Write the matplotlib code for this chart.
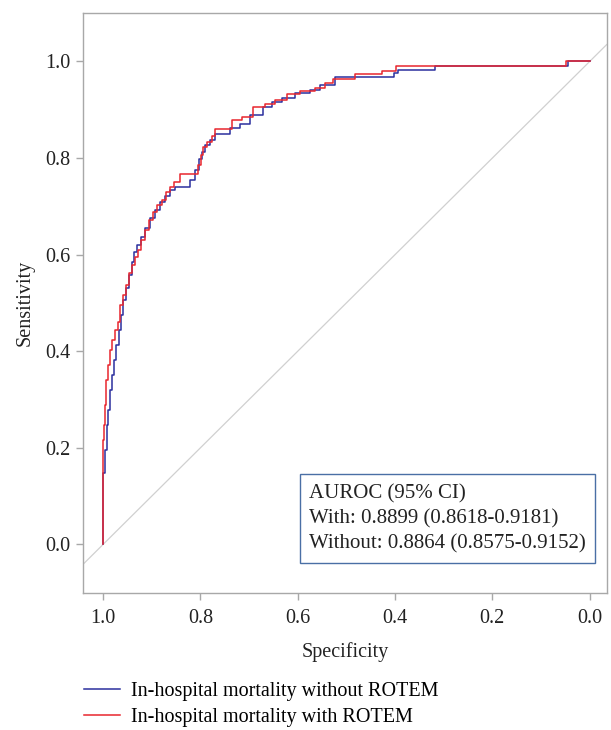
import matplotlib
matplotlib.use("Agg")
import matplotlib.pyplot as plt

plt.rcParams['font.family'] = ['Liberation Serif', 'DejaVu Serif']

# ROC curve corner points (specificity, sensitivity)
spec_with = [1.000, 1.000, 0.998, 0.996, 0.994, 0.990, 0.986, 0.982, 0.975, 0.969,
             0.965, 0.959, 0.953, 0.947, 0.940, 0.934, 0.928, 0.922, 0.914, 0.906,
             0.897, 0.889, 0.879, 0.871, 0.862, 0.854, 0.842, 0.805, 0.799, 0.795,
             0.786, 0.776, 0.770, 0.735, 0.715, 0.692, 0.667, 0.647, 0.622, 0.595,
             0.565, 0.544, 0.528, 0.483, 0.427, 0.398, 0.049, 0.000]
sens_with = [0.000, 0.216, 0.247, 0.288, 0.340, 0.371, 0.402, 0.423, 0.444, 0.461,
             0.496, 0.517, 0.537, 0.562, 0.579, 0.595, 0.610, 0.631, 0.651, 0.672,
             0.689, 0.703, 0.714, 0.730, 0.741, 0.751, 0.766, 0.786, 0.807, 0.822,
             0.834, 0.846, 0.861, 0.878, 0.886, 0.905, 0.911, 0.921, 0.932, 0.938,
             0.946, 0.956, 0.963, 0.973, 0.981, 0.990, 1.000, 1.000]

spec_without = [1.000, 1.000, 0.996, 0.992, 0.990, 0.986, 0.982, 0.977, 0.973, 0.967,
                0.963, 0.959, 0.953, 0.947, 0.940, 0.936, 0.930, 0.922, 0.914, 0.903,
                0.893, 0.883, 0.873, 0.862, 0.852, 0.821, 0.811, 0.803, 0.797, 0.791,
                0.780, 0.770, 0.739, 0.719, 0.698, 0.671, 0.653, 0.632, 0.606, 0.575,
                0.554, 0.524, 0.402, 0.394, 0.318, 0.045, 0.000]
sens_without = [0.000, 0.147, 0.195, 0.247, 0.278, 0.320, 0.351, 0.382, 0.413, 0.444,
                0.475, 0.506, 0.531, 0.558, 0.585, 0.606, 0.620, 0.637, 0.656, 0.676,
                0.693, 0.710, 0.722, 0.734, 0.741, 0.755, 0.776, 0.797, 0.813, 0.826,
                0.838, 0.849, 0.863, 0.871, 0.890, 0.905, 0.915, 0.925, 0.934, 0.940,
                0.952, 0.967, 0.977, 0.983, 0.990, 1.000, 1.000]

labels = ["In-hospital mortality without ROTEM", "In-hospital mortality with ROTEM"]
box_lines = ["AUROC (95% CI)", "With: 0.8899 (0.8618-0.9181)", "Without: 0.8864 (0.8575-0.9152)"]
ticks = [1.0, 0.8, 0.6, 0.4, 0.2, 0.0]

BLUE = "#2b2f9e"
RED = "#e8262e"
GRAY = "#a8a8a8"
TXT = "#222222"
FS = 14.5

fig = plt.figure(figsize=(6.11, 7.30), dpi=100)
ax = fig.add_axes([0.136, 0.188, 0.857, 0.794])

ax.axline((1.0, 0.0), (0.0, 1.0), color="#d0d0d0", lw=0.9, zorder=1)
l1, = ax.plot(spec_without, sens_without, drawstyle="steps-post", color=BLUE, lw=1.1, zorder=3)
l2, = ax.plot(spec_with, sens_with, drawstyle="steps-post", color=RED, lw=1.1, zorder=4)

ax.set_xlim(1.041, -0.035)
ax.set_ylim(-0.10, 1.10)
ax.set_xticks(ticks)
ax.set_yticks(ticks)
ax.set_xticklabels([f"{t:.1f}" for t in ticks])
ax.set_yticklabels([f"{t:.1f}" for t in ticks])
ax.tick_params(direction="out", length=5, width=1, color=GRAY, labelsize=FS,
               labelcolor=TXT, pad=4)
ax.tick_params(axis="x", pad=7)
for s in ax.spines.values():
    s.set_color(GRAY)
    s.set_linewidth(1.0)

ax.set_xlabel("Specificity", fontsize=FS, color=TXT, labelpad=10)
ax.set_ylabel("Sensitivity", fontsize=FS, color=TXT, labelpad=8)

ax.text(0.432, 0.188, "\n".join(box_lines), transform=ax.transAxes, fontsize=15,
        color=TXT, va="top", ha="left", linespacing=1.43,
        bbox=dict(boxstyle="square,pad=0.45", facecolor="white", edgecolor="#4a6fa5", lw=1.0))

fig.legend([l1, l2], labels, loc="upper left", bbox_to_anchor=(0.138, 0.066),
           frameon=False, fontsize=FS, handlelength=1.75, handletextpad=0.55,
           labelspacing=0.33, borderaxespad=0, borderpad=0)

fig.savefig("out.png", dpi=100)
